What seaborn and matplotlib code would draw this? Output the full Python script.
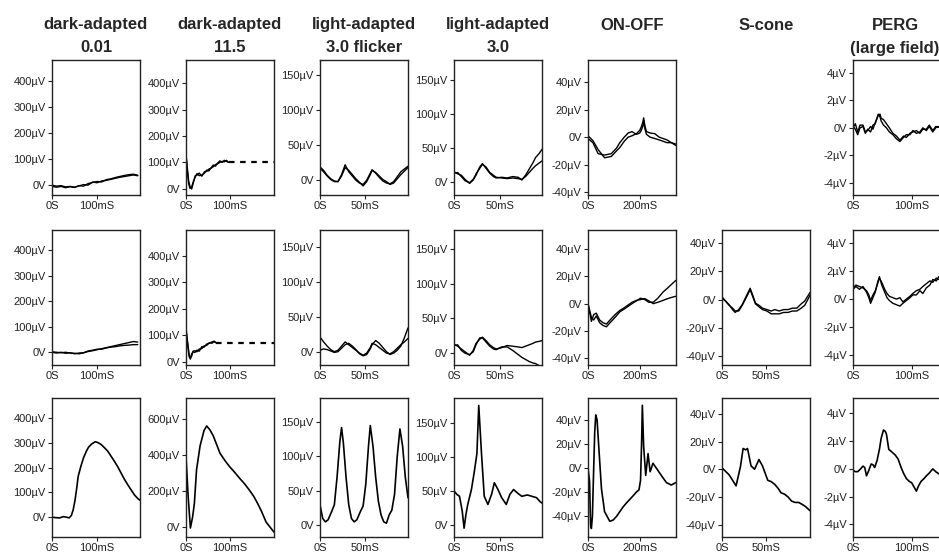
import seaborn as sns
import matplotlib.pyplot as plt
from matplotlib.ticker import FuncFormatter

# column headers
col_titles = [("dark-adapted", "0.01"), ("dark-adapted", "11.5"), ("light-adapted", "3.0 flicker"),
              ("light-adapted", "3.0"), ("ON-OFF", ""), ("S-cone", ""), ("PERG", "(large field)")]

# time axis end (ms) and labelled x tick per column
col_xmax = [195, 200, 98, 96, 340, 100, 150]
col_xtick = [100, 100, 50, 50, 200, 50, 100]

# ---- dark-adapted 0.01 (uV)
da001_t = [0, 10, 20, 30, 40, 50, 60, 70, 80, 90, 100, 110, 120, 130, 140, 150, 160, 170, 180, 190]
da001_r1a = [0, -4, -2, -7, -5, -8, -3, 2, 0, 12, 9, 16, 18, 22, 26, 30, 33, 36, 39, 36]
da001_r1b = [-5, -8, -5, -10, -6, -9, -2, -4, 6, 10, 14, 12, 21, 24, 29, 33, 37, 40, 42, 38]
da001_r2a = [2, 0, -2, 0, -3, -4, -6, -2, 3, 6, 10, 14, 18, 22, 26, 30, 34, 38, 42, 40]
da001_r2b = [0, -3, 0, -4, -2, -6, -3, -2, 5, 8, 12, 12, 17, 20, 22, 25, 27, 28, 30, 30]
da001_t3 = [0, 8, 17, 25, 32, 38, 43, 47, 51, 55, 58, 64, 70, 76, 81, 88, 96, 102, 108, 115,
            123, 130, 138, 146, 153, 160, 168, 176, 183, 190, 195]
da001_r3 = [0, -2, -3, 2, 0, -3, 7, 30, 68, 120, 164, 205, 240, 265, 282, 295, 304, 300, 294, 282,
            267, 248, 226, 202, 178, 154, 130, 108, 89, 75, 68]

# ---- dark-adapted 11.5
da115_t = [0, 3, 6, 9, 13, 17, 21, 25, 30, 36, 42, 47, 52, 57, 62, 67, 72, 77, 82, 87, 92, 97]
da115_r1a = [134, 70, 20, 2, 8, 30, 45, 58, 50, 52, 60, 71, 68, 80, 90, 86, 98, 106, 100, 108, 104, 100]
da115_r1b = [125, 80, 30, 10, 0, 25, 50, 52, 60, 48, 65, 66, 75, 78, 84, 92, 95, 100, 104, 102, 108, 100]
da115_r1_tail_t = [97, 200]
da115_r1_tail = [100, 100]
da115_t2 = [0, 4, 7, 10, 13, 16, 20, 25, 30, 36, 41, 47, 53, 59, 64, 68]
da115_r2a = [130, 60, 20, 10, 30, 38, 35, 44, 40, 57, 55, 67, 70, 75, 78, 72]
da115_r2b = [120, 70, 30, 15, 22, 40, 42, 38, 48, 50, 60, 62, 72, 70, 76, 72]
da115_r2_tail_t = [68, 200]
da115_r2_tail = [72, 72]
da115_t3 = [0, 5, 10, 15, 19, 24, 32, 41, 47, 54, 62, 70, 77, 88, 99, 110, 122, 133, 144, 154,
            163, 172, 182, 191, 200]
da115_r3 = [390, 166, -5, 56, 130, 318, 450, 535, 560, 540, 505, 455, 410, 370, 335, 305, 270, 240, 205, 170,
            130, 85, 28, 0, -28]

# ---- light-adapted 3.0 flicker
fl_t = [0, 4, 8, 12, 16, 20, 24, 28, 32, 36, 40, 44, 48, 52, 56, 58, 62, 66, 70, 74, 78, 82, 86, 90, 94, 98]
fl_r1a = [17, 12, 6, 1, -2, -2, 8, 22, 12, 6, 0, -4, -6, 0, 10, 15, 10, 4, -1, -4, -5, -2, 5, 12, 16, 20]
fl_r1b = [19, 14, 7, 2, -1, -2, 6, 18, 14, 8, 2, -3, -8, -2, 8, 14, 11, 6, 1, -2, -6, -4, 2, 8, 13, 18]
fl_r2a = [21, 14, 8, 3, 0, 2, 8, 14, 10, 6, 2, -2, -5, -2, 6, 12, 10, 6, 2, -2, -3, 0, 5, 10, 14, 19]
fl_r2b = [2, 4, 3, 1, -1, 0, 5, 10, 12, 8, 3, -3, -6, -4, 4, 10, 16, 12, 6, 0, -4, -2, 2, 8, 20, 34]
fl_t3 = [0, 3, 6, 9, 13, 16, 19, 22, 24, 26, 29, 32, 35, 38, 41, 45, 48, 51, 54, 56,
         59, 62, 65, 68, 71, 74, 77, 80, 83, 86, 89, 92, 95, 98]
fl_r3 = [30, 10, 5, 8, 20, 30, 70, 120, 142, 120, 70, 30, 10, 5, 8, 20, 28, 60, 115, 145,
         115, 70, 35, 15, 5, 3, 15, 22, 45, 100, 140, 115, 70, 40]

# ---- light-adapted 3.0
la_t = [0, 4, 8, 12, 17, 21, 24, 28, 31, 35, 39, 43, 46, 52, 58, 64, 70, 74, 78, 82, 86, 89, 93, 96]
la_r1a = [15, 12, 10, 4, -2, 3, 12, 20, 26, 22, 14, 10, 7, 6, 5, 6, 5, 4, 8, 14, 20, 24, 28, 31]
la_r1b = [13, 14, 8, 2, -1, 4, 10, 22, 27, 20, 13, 8, 6, 7, 6, 8, 7, 3, 10, 19, 28, 36, 42, 48]
la_r2a = [13, 10, 6, 2, -3, 4, 14, 20, 23, 18, 12, 8, 6, 8, 11, 10, 9, 8, 10, 12, 14, 16, 17, 18]
la_r2b = [11, 12, 4, 0, -2, 2, 12, 22, 22, 16, 10, 6, 5, 9, 9, 4, -2, -6, -9, -12, -14, -15, -18, -21]
la_t3 = [0, 3, 6, 9, 11, 13, 15, 19, 22, 25, 27, 30, 33, 37, 41, 44, 48, 52, 57, 61,
         65, 70, 74, 80, 85, 90, 94, 96]
la_r3 = [50, 45, 42, 20, -5, 15, 30, 52, 77, 105, 176, 105, 42, 30, 45, 62, 52, 40, 30, 45,
         52, 46, 42, 44, 42, 40, 34, 32]

# ---- ON-OFF
oo_t = [0, 19, 39, 64, 90, 110, 123, 140, 155, 170, 187, 200, 206, 212, 215, 220, 226, 240, 258, 275,
        290, 305, 322, 339]
oo_r1a = [1, -2.5, -9, -15, -14, -10, -7.5, -3, 0, 1, 2.5, 5, 7.5, 11, 14, 8, 4, 3, 2.5, 0, -1, -2, -4, -5]
oo_r1b = [-1, -4, -12, -13, -12, -8, -4, 0, 3, 4, 2, 3, 5, 8, 12, 6, 2, 0, -1, -2, -3, -4, -4, -6]
oo_t2 = [0, 13, 22, 32, 45, 58, 71, 90, 105, 123, 140, 155, 170, 187, 203, 219, 235, 252, 270, 290,
         305, 322, 339]
oo_r2a = [0, -13, -8, -7, -12, -14, -15, -11, -8, -5, -3, -1, 1, 2.4, 3, 3.7, 2, 0, 1, 2.4, 3.5, 4.5, 5.4]
oo_r2b = [0, -10, -12, -9, -14, -16, -17, -13, -10, -6, -4, -2, 0, 2, 4, 3, 1, 1, 4, 8.5, 11, 14, 17]
oo_t3 = [0, 6, 10, 13, 17, 22, 26, 30, 35, 43, 52, 64, 84, 97, 110, 123, 136, 148, 161, 174,
         186, 197, 203, 207, 210, 215, 223, 232, 240, 251, 264, 283, 303, 322, 339]
oo_r3 = [0, -11, -47, -50, -40, 0, 30, 44, 40, 13, -17, -36, -44, -43, -40, -36, -32, -29, -26, -23,
         -20, -18, -10, 20, 52, 18, -6, 12, -3, 4, 0, -6, -12, -14, -12]

# ---- S-cone
sc_t2 = [0, 4, 8, 12, 15, 19, 23, 28, 32, 35, 38, 42, 46, 51, 56, 60, 65, 70, 75, 80, 85, 90, 94, 100]
sc_r2a = [1, -1, -3.5, -7, -9, -7, -3.5, 3, 8, 3, -2.4, -4, -6, -7, -8, -7, -8, -7, -7, -6, -6, -3, -1, 5]
sc_r2b = [2, -1, -4, -6, -8, -8, -4, 2, 7, 2, -3, -5, -7, -8, -10, -10, -10, -9, -9, -8, -8, -6, -4, 3]
sc_t3 = [0, 8, 16, 21, 24, 27, 29, 33, 37, 42, 46, 52, 56, 60, 64, 67, 71, 75, 79, 83, 87, 90, 95, 100]
sc_r3 = [1, -4, -12, 2, 15, 14, 15, 2.4, 0, 7, 2.4, -8, -9, -11, -14, -17, -18, -20, -23, -24, -24, -25, -27, -30]

# ---- PERG
pg_t = [0, 4, 8, 12, 17, 21, 25, 30, 34, 38, 43, 46, 48, 52, 57, 62, 68, 74, 80, 86,
        91, 97, 102, 108, 114, 119, 125, 130, 136, 141, 146, 150]
pg_r1a = [0, 0.3, -0.3, 0.2, 0.2, -0.3, -0.2, 0.1, -0.1, 0.4, 0.9, 1.0, 0.7, 0.6, 0.3, 0.0, -0.4, -0.6, -0.9, -0.6,
          -0.7, -0.4, -0.3, -0.2, -0.4, -0.1, -0.1, 0.2, -0.2, 0.1, 0.05, 0.0]
pg_r1b = [0.1, -0.1, -0.5, 0, 0.1, -0.4, -0.1, -0.3, 0.2, 0.3, 1.0, 0.8, 0.5, 0.2, 0.0, -0.3, -0.5, -0.8, -1.0, -0.7,
          -0.5, -0.5, -0.2, -0.4, -0.3, 0.0, -0.2, 0.1, -0.3, 0.0, 0.1, -0.1]
pg_t2 = [0, 5, 11, 17, 23, 27, 30, 34, 38, 42, 45, 49, 54, 58, 62, 68, 74, 80, 85, 91,
         97, 102, 108, 114, 119, 125, 131, 136, 142, 146, 150]
pg_r2a = [0.8, 1.0, 0.9, 0.8, 0.6, 0.3, -0.1, 0.3, 0.6, 1.1, 1.5, 1.2, 0.7, 0.4, 0.2, 0.1, 0.0, 0.1, -0.2, 0.0,
          0.2, 0.4, 0.6, 0.7, 0.9, 1.1, 1.3, 1.2, 1.5, 1.4, 1.5]
pg_r2b = [0.7, 0.9, 0.7, 0.9, 0.5, 0.1, -0.3, 0.1, 0.5, 1.2, 1.6, 1.0, 0.5, 0.1, -0.1, -0.3, -0.4, -0.5, -0.3, -0.1,
          0.1, 0.3, 0.3, 0.6, 0.4, 0.8, 1.0, 1.4, 1.3, 1.6, 1.5]
pg_t3 = [0, 4, 8, 13, 17, 20, 23, 27, 31, 34, 37, 41, 45, 48, 52, 55, 57, 61, 64, 68,
         72, 77, 82, 86, 91, 96, 100, 104, 108, 112, 116, 121, 125, 130, 136, 141, 146, 150]
pg_r3 = [-0.1, -0.2, -0.2, 0.0, 0.2, 0.1, -0.5, -0.1, 0.35, 0.3, 0.1, 0.6, 1.4, 2.2, 2.8, 2.7, 2.5, 1.4, 1.3, 1.15,
         1.0, 0.7, 0.1, -0.3, -0.7, -0.9, -1.0, -1.3, -1.6, -1.2, -0.9, -0.7, -0.5, -0.3, 0.0, -0.2, -0.35, -0.2]

# y ticks
uv400 = [0, 100, 200, 300, 400]
uv600 = [0, 200, 400, 600]
uv150 = [0, 50, 100, 150]
uv40 = [-40, -20, 0, 20, 40]
uv4 = [-4, -2, 0, 2, 4]

# (row, col, traces, ylim, yticks); each trace = (t, v, dashed)
panels = [
    (0, 0, [(da001_t, da001_r1a, False), (da001_t, da001_r1b, False)], (-38, 481), uv400),
    (1, 0, [(da001_t, da001_r2a, False), (da001_t, da001_r2b, False)], (-50, 480), uv400),
    (2, 0, [(da001_t3, da001_r3, False)], (-80, 480), uv400),
    (0, 1, [(da115_t, da115_r1a, False), (da115_t, da115_r1b, False),
            (da115_r1_tail_t, da115_r1_tail, True)], (-23, 487), uv400),
    (1, 1, [(da115_t2, da115_r2a, False), (da115_t2, da115_r2b, False),
            (da115_r2_tail_t, da115_r2_tail, True)], (-12, 497), uv400),
    (2, 1, [(da115_t3, da115_r3, False)], (-55, 715), uv600),
    (0, 2, [(fl_t, fl_r1a, False), (fl_t, fl_r1b, False)], (-21, 171), uv150),
    (1, 2, [(fl_t, fl_r2a, False), (fl_t, fl_r2b, False)], (-19, 174), uv150),
    (2, 2, [(fl_t3, fl_r3, False)], (-17, 185), uv150),
    (0, 3, [(la_t, la_r1a, False), (la_t, la_r1b, False)], (-19, 179), uv150),
    (1, 3, [(la_t, la_r2a, False), (la_t, la_r2b, False)], (-17, 177), uv150),
    (2, 3, [(la_t3, la_r3, False)], (-18, 187), uv150),
    (0, 4, [(oo_t, oo_r1a, False), (oo_t, oo_r1b, False)], (-42, 56), uv40),
    (1, 4, [(oo_t2, oo_r2a, False), (oo_t2, oo_r2b, False)], (-45, 54), uv40),
    (2, 4, [(oo_t3, oo_r3, False)], (-57, 58), uv40),
    (1, 5, [(sc_t2, sc_r2a, False), (sc_t2, sc_r2b, False)], (-46, 49), uv40),
    (2, 5, [(sc_t3, sc_r3, False)], (-49, 51.5), uv40),
    (0, 6, [(pg_t, pg_r1a, False), (pg_t, pg_r1b, False)], (-4.9, 4.95), uv4),
    (1, 6, [(pg_t2, pg_r2a, False), (pg_t2, pg_r2b, False)], (-4.7, 4.93), uv4),
    (2, 6, [(pg_t3, pg_r3, False)], (-4.9, 5.1), uv4),
]

sns.set_theme(style="ticks")
plt.rcParams['font.family'] = ['Liberation Sans', 'DejaVu Sans']

W, H = 939, 556
fig = plt.figure(figsize=(W / 100, H / 100), dpi=100)
fig.patch.set_facecolor("white")

# layout in pixels
col_left = [52, 186, 320, 454, 588, 722, 853]
row_top = [60, 230, 398]
row_bot = [195, 365, 537]
ax_w = 88

uv_fmt = FuncFormatter(lambda v, p: "0V" if v == 0 else f"{v:g}\u00b5V")
ms_fmt = FuncFormatter(lambda v, p: "0S" if v == 0 else f"{v:g}mS")

for row, col, traces, ylim, yticks in panels:
    l, t, b = col_left[col], row_top[row], row_bot[row]
    ax = fig.add_axes([l / W, 1 - b / H, ax_w / W, (b - t) / H])
    single = len(traces) == 1
    for tt, vv, dashed in traces:
        sns.lineplot(x=tt, y=vv, ax=ax, color="black", estimator=None, sort=False,
                     linewidth=1.6 if dashed else (1.2 if single else 1.0),
                     linestyle=(0, (2.5, 2.5)) if dashed else "-")
    ax.set_xlim(0, col_xmax[col])
    ax.set_ylim(*ylim)
    ax.set_xticks([0, col_xtick[col]])
    ax.set_yticks(yticks)
    ax.xaxis.set_major_formatter(ms_fmt)
    ax.yaxis.set_major_formatter(uv_fmt)
    ax.tick_params(labelsize=8, length=3, width=0.8, pad=1.5, colors="#222222")
    for s in ax.spines.values():
        s.set_visible(True)
        s.set_linewidth(1.0)
        s.set_color("#222222")
    ax.set_xlabel("")
    ax.set_ylabel("")

for i, (l1, l2) in enumerate(col_titles):
    cx = col_left[i] + ax_w / 2 if i < 6 else 895
    fig.text(cx / W, 1 - 25 / H, l1, ha="center", va="center", fontsize=12, fontweight="bold")
    if l2:
        fig.text(cx / W, 1 - 48 / H, l2, ha="center", va="center", fontsize=12, fontweight="bold")

fig.savefig("out.png", dpi=100, facecolor="white")
